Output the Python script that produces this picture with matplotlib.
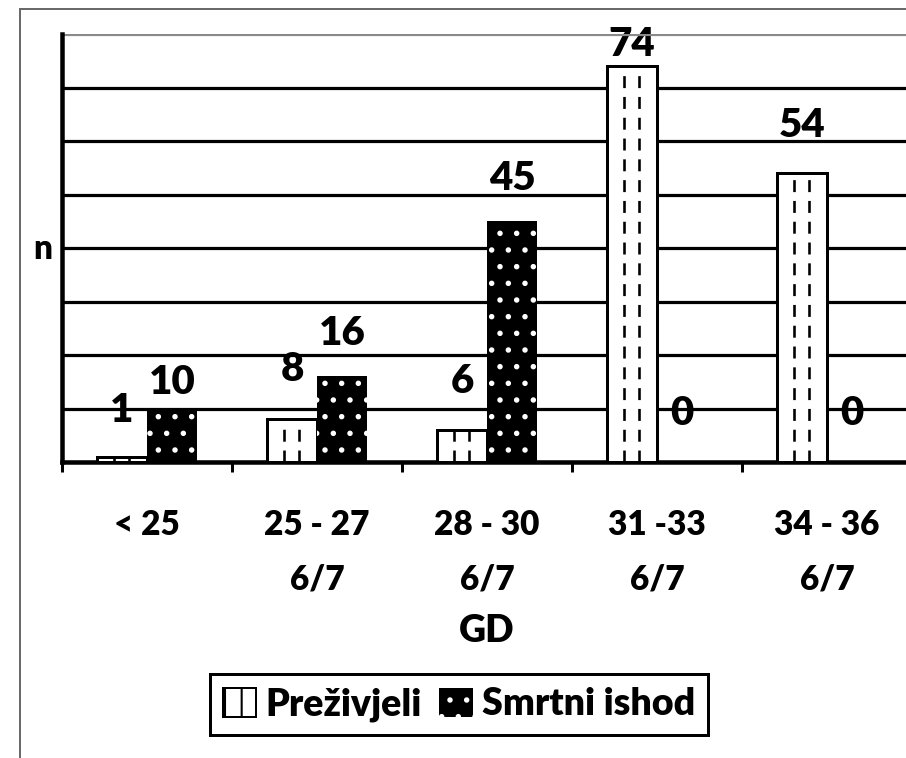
import matplotlib
matplotlib.use('Agg')
import matplotlib.pyplot as plt
from matplotlib.patches import Patch, Rectangle
import numpy as np

# ---- data ----
categories = ['< 25', '25 - 27\n6/7', '28 - 30\n6/7', '31 -33\n6/7', '34 - 36\n6/7']
prezivjeli = [1, 8, 6, 74, 54]
smrtni_ishod = [10, 16, 45, 0, 0]
series_names = ['Preživjeli', 'Smrtni ishod']
y_ticks = [0, 10, 20, 30, 40, 50, 60, 70, 80]
x_label = 'GD'
y_label = 'n'

# ---- style ----
WEIGHT = 'heavy'
plt.rcParams['font.family'] = ['Lato', 'DejaVu Sans']
plt.rcParams['font.weight'] = WEIGHT
plt.rcParams['hatch.linewidth'] = 1.5
PX = 72 / 100  # points per pixel at dpi 100

W, H = 906, 758
fig = plt.figure(figsize=(W / 100, H / 100), dpi=100)
ax = fig.add_axes([62 / W, 296 / H, 850 / W, 428 / H])
ax.set_xlim(-0.5, 4.5)
ax.set_ylim(y_ticks[0], y_ticks[-1])

x = np.arange(len(categories))
bw = 50 / 170
b1 = ax.bar(x - bw / 2, prezivjeli, bw, facecolor='white', edgecolor='black',
            linewidth=3 * PX, zorder=3)
b2 = ax.bar(x + bw / 2, smrtni_ishod, bw, facecolor='black', edgecolor='white',
            linewidth=0, hatch='.', zorder=3)

# dashed vertical pattern inside "Preživjeli" bars
for r in b1:
    x0, wd, h = r.get_x(), r.get_width(), r.get_height()
    for f in (0.34, 0.64):
        ax.vlines(x0 + f * wd, 0, h, colors='black', linewidth=2.6 * PX,
                  linestyles=[(0, (4.6, 3.4))], zorder=4)

# grid
ax.set_yticks(y_ticks)
ax.tick_params(axis='y', length=0, labelleft=False)
ax.grid(axis='y', color='black', linewidth=3.2 * PX)
ax.set_axisbelow(True)
gl = ax.yaxis.get_gridlines()
gl[-1].set_color('#8a8a8a')

# spines
for s in ('top', 'right'):
    ax.spines[s].set_visible(False)
ax.spines['left'].set_linewidth(4.5 * PX)
ax.spines['bottom'].set_linewidth(4.5 * PX)

# x ticks
ax.set_xticks(x, categories)
ax.tick_params(axis='x', which='major', length=0, pad=34, labelsize=24)
ax.set_xticks(np.arange(-0.5, len(categories), 1), minor=True)
ax.tick_params(axis='x', which='minor', length=10 * PX, width=3 * PX, direction='out')
for t in ax.get_xticklabels():
    t.set_linespacing(1.85)
    t.set_fontweight(WEIGHT)

# value labels (gap above bar in pixels)
surv_gap = [35, 38, 37, 10, 36]
death_gap = [14, 31, 31, 37, 37]
for bars, vals, gaps in ((b1, prezivjeli, surv_gap), (b2, smrtni_ishod, death_gap)):
    for r, v, g in zip(bars, vals, gaps):
        ax.annotate(str(v), (r.get_x() + r.get_width() / 2, v), xytext=(0, g * PX),
                    textcoords='offset points', ha='center', va='baseline',
                    fontsize=29, fontweight=WEIGHT, zorder=0.4)

# axis labels
ax.annotate(y_label, xy=(0, (462 - 259) / 428), xycoords='axes fraction',
            xytext=(-10 * PX, 0), textcoords='offset points', ha='right',
            va='baseline', fontsize=24, fontweight=WEIGHT)
fig.text(487 / W, 1 - 642 / H, x_label, ha='center', va='baseline',
         fontsize=27, fontweight=WEIGHT)

# legend
handles = [Patch(facecolor='white', edgecolor='black', hatch='|', linewidth=2 * PX),
           Patch(facecolor='black', edgecolor='white', hatch='.', linewidth=0)]
leg = fig.legend(handles, series_names, loc='center',
                 bbox_to_anchor=(459 / W, 1 - 704.5 / H), ncol=2, fontsize=27,
                 frameon=True, fancybox=False, edgecolor='black', framealpha=1,
                 handlelength=0.9, handleheight=0.8, handletextpad=0.25,
                 columnspacing=0.45, borderpad=0.35)
leg.get_frame().set_linewidth(3 * PX)
for t in leg.get_texts():
    t.set_fontweight(WEIGHT)

# outer frame
fig.add_artist(Rectangle((19.5 / W, -0.2), 1.5, 1 - 9 / H + 0.2,
                         transform=fig.transFigure, fill=False,
                         edgecolor='#6a6a6a', linewidth=2 * PX, clip_on=False))

fig.savefig('out.png', dpi=100)
